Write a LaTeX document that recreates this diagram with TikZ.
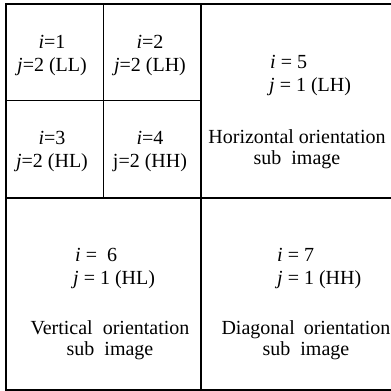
\documentclass[tikz,border=0pt]{standalone}
\usepackage{fontspec}
\setmainfont{Liberation Serif}
\usetikzlibrary{positioning}
\tikzset{
  lbl/.style={inner sep=0pt, font=\fontsize{20}{23}\selectfont},
  small/.style={lbl, align=center},
  idx/.style={lbl, align=left, anchor=west},
  desc/.style={lbl, align=center, font=\fontsize{20}{21}\selectfont},
  outer/.style={line width=1.6pt},
  inner/.style={line width=1.1pt},
  fine/.style={line width=0.8pt}
}

\begin{document}
\begin{tikzpicture}[x=1pt, y=-1pt]
\useasboundingbox (0,0) rectangle (391,391);
% frame and dividers
\coordinate (tl) at (6,4); \coordinate (tr) at (393,4);
\coordinate (bl) at (6,390); \coordinate (br) at (393,390);
\coordinate (mt) at (201,4); \coordinate (mb) at (201,390);
\coordinate (ml) at (6,198); \coordinate (mr) at (393,198);
\coordinate (st) at (103,4); \coordinate (sb) at (103,198);
\coordinate (sl) at (6,100); \coordinate (sr) at (201,100);
\draw[outer] (tr) -- (tl) -- (bl) -- (br);
\draw[inner] (mt) -- (mb); \draw[inner] (ml) -- (mr);
\draw[fine] (st) -- (sb); \draw[fine] (sl) -- (sr);

% level 2 sub images
\node[small] (ll) at (52,56) {\textit{i}=1\\\textit{j}=2 (LL)};
\node[small] (lh) at (150,56) {\textit{i}=2\\\textit{j}=2 (LH)};
\node[small] (hl) at (52,152) {\textit{i}=3\\\textit{j}=2 (HL)};
\node[small] (hh) at (150,152) {\textit{i}=4\\j=2 (HH)};

% level 1 sub images
\node[idx] (lh1) at (269,76) {\hspace{1pt}\textit{i} = 5\\\textit{j} = 1 (LH)};
\node[desc] (hor) at (297,149) {Horizontal orientation\\sub~~image};
\node[idx] (hl1) at (73,269) {\hspace{2pt}\textit{i} =~~6\\\textit{j} = 1 (HL)};
\node[desc] (ver) at (110,340) {Vertical~~orientation\\sub~~image};
\node[idx] (hh1) at (277,269) {\textit{i} = 7\\\textit{j} = 1 (HH)};
\node[desc] (dia) at (306,340) {Diagonal\hspace{0.45em}orientation\\sub~~image};
\end{tikzpicture}
\end{document}
